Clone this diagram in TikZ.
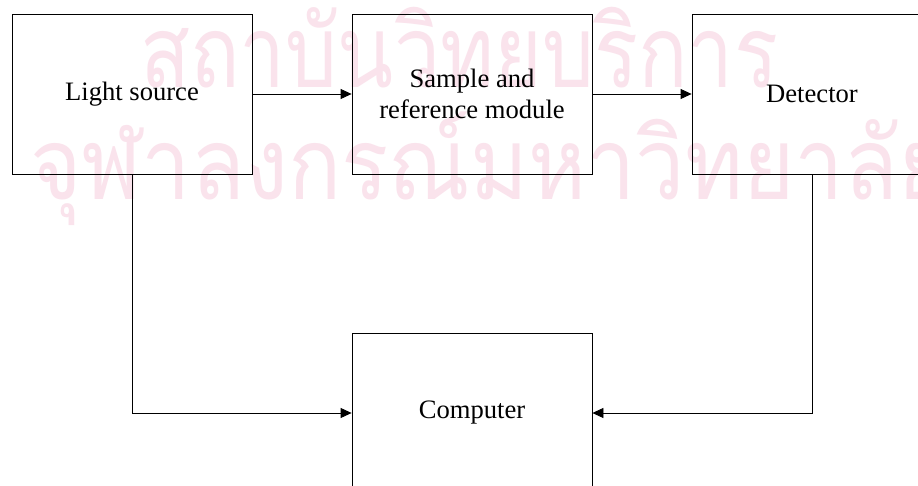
\documentclass[tikz,border=0pt]{standalone}
\usepackage{graphicx}
\usepackage{fontspec}
\setmainfont{Liberation Serif}
\newfontfamily\thaifont[Script=Thai]{Loma}
\usetikzlibrary{arrows.meta}
\definecolor{wmark}{RGB}{250,227,236}
\begin{document}
\begin{tikzpicture}[x=1pt,y=-1pt,
  blockbox/.style={draw=black,line width=0.8pt,minimum width=240pt,minimum height=160pt,
    inner sep=0pt,align=center,font=\fontsize{26.6}{31}\selectfont},
  conn/.style={draw=black,line width=0.8pt,-{Triangle[length=11pt,width=10pt]}},
  wm/.style={text=wmark,inner sep=0pt,font=\thaifont\fontsize{100}{100}\selectfont}]
\useasboundingbox (0,0) rectangle (918,486);
\fill[white] (0,0) rectangle (918,486);
\node[wm,anchor=base west] (wm1) at (140,88) {\scalebox{0.82}[1]{สถาบันวิทยบริการ}};
\node[wm,anchor=base west] (wm2) at (30,200) {\scalebox{0.88}[1]{จุฬาลงกรณ์มหาวิทยาลัย}};
\node[blockbox] (light) at (132,94) {Light source};
\node[blockbox] (sample) at (472,94) {Sample and\\reference module};
\node[blockbox] (det) at (812,94) {Detector};
\node[blockbox] (comp) at (472,413) {Computer};
\draw[conn] (light.east) -- (sample.west);
\draw[conn] (sample.east) -- (det.west);
\draw[conn] (light.south) |- (comp.west);
\draw[conn] (det.south) |- (comp.east);
\end{tikzpicture}
\end{document}
